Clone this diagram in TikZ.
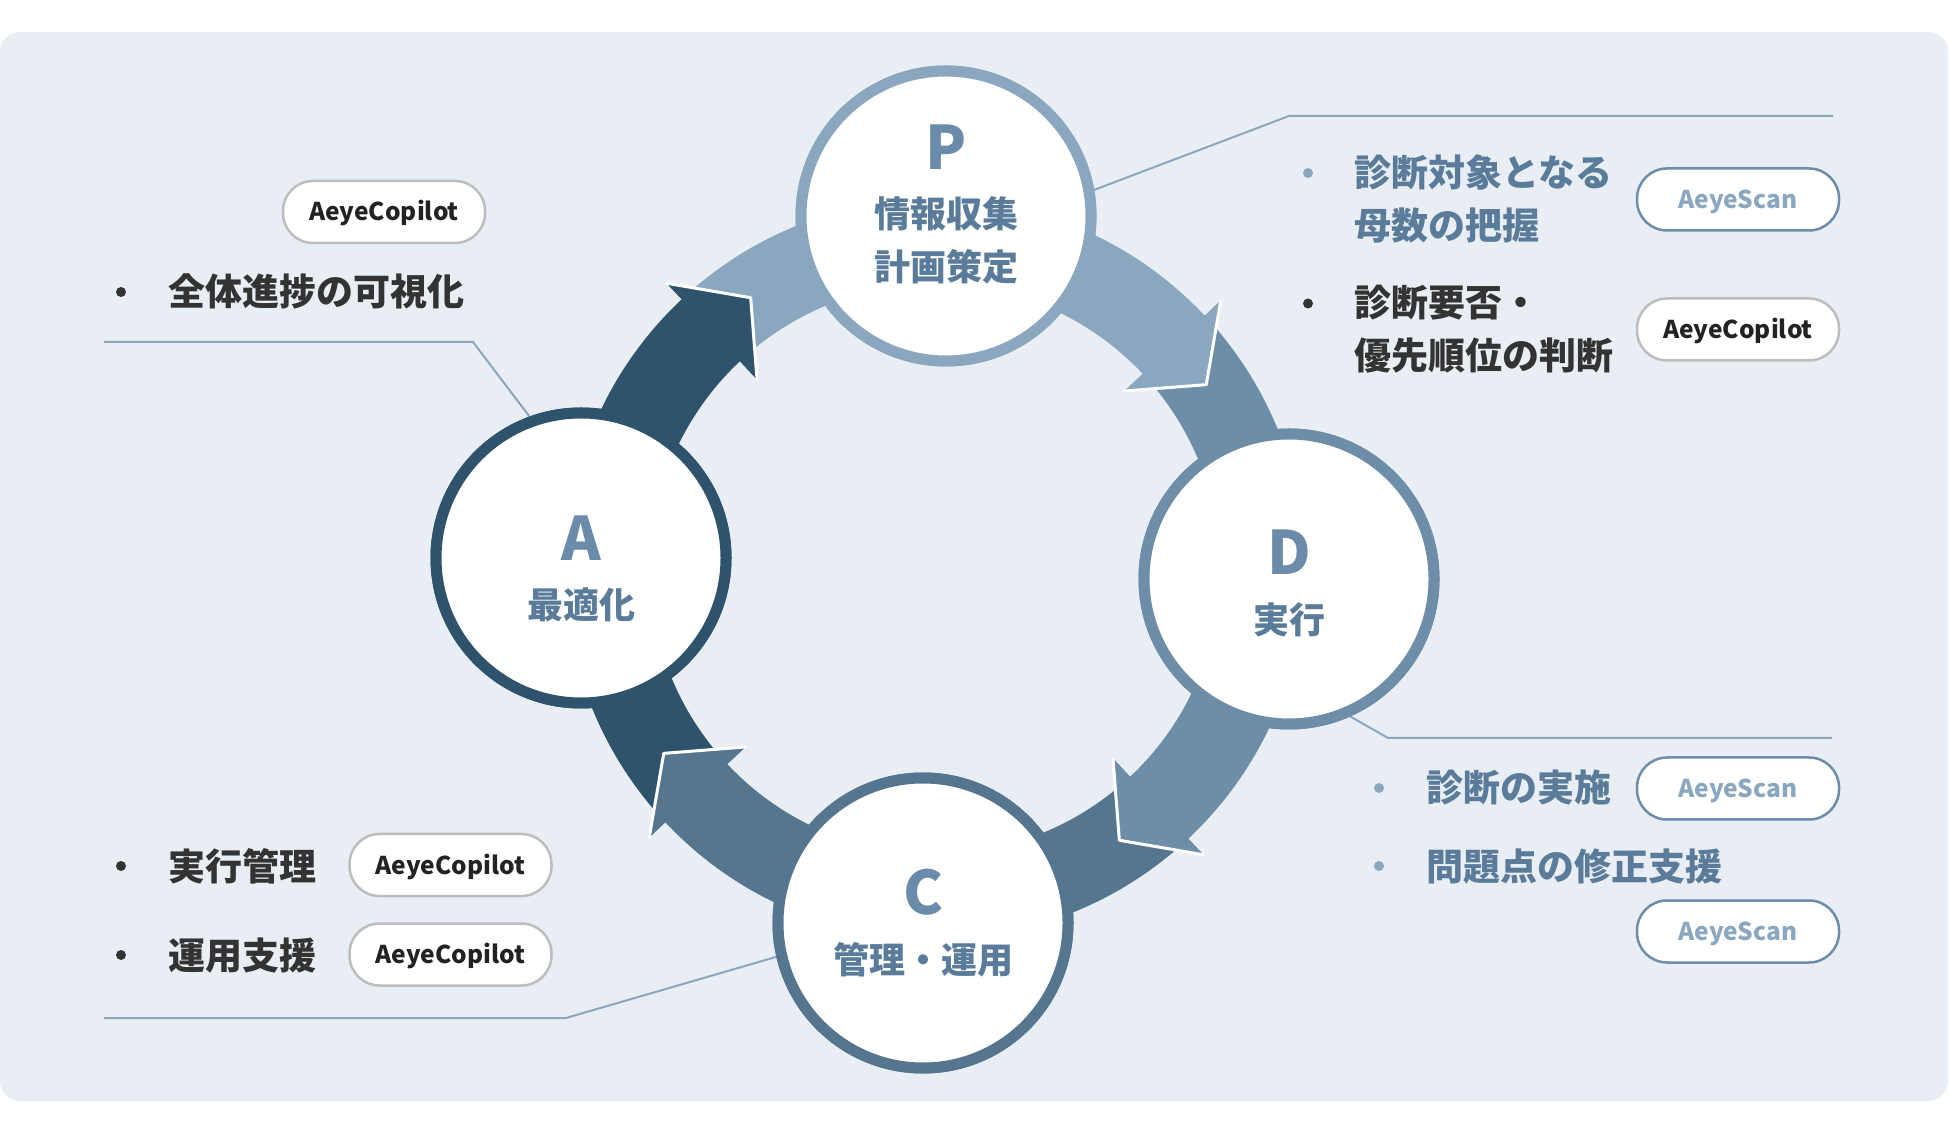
\documentclass[tikz,border=0pt]{standalone}
\usepackage{fontspec}
\setmainfont{Noto Sans CJK JP}
\usetikzlibrary{calc}
\definecolor{bgc}{HTML}{E8EEF4}
\definecolor{Pcol}{HTML}{8AA7BF}
\definecolor{Dcol}{HTML}{6D8DA9}
\definecolor{Ccol}{HTML}{56768F}
\definecolor{Acol}{HTML}{2F536D}
\definecolor{letc}{HTML}{6A8CAA}
\definecolor{labc}{HTML}{5A7B99}
\definecolor{textdark}{HTML}{333333}
\definecolor{pilltext}{HTML}{222222}
\definecolor{pillgray}{HTML}{BDBDBD}
\definecolor{leadc}{HTML}{8AA7BF}
\newcommand\pdcaband[3]{%
  \fill[#1] ($(O)+(#2:370)$) arc[start angle=#2, end angle=#3, radius=370]
    -- ($(O)+(#3:392)$) -- ($(O)+(#3-9:328)$) -- ($(O)+(#3:260)$)
    -- ($(O)+(#3:285)$) arc[start angle=#3, end angle=#2, radius=285] -- cycle;}
\newcommand\pdcahead[2]{%
  \fill[#1] ($(O)+(#2:392)$) -- ($(O)+(#2-9:328)$) -- ($(O)+(#2:260)$) -- cycle;
  \draw[white, line width=3, line join=round, line cap=round]
    ($(O)+(#2:392)$) -- ($(O)+(#2-9:328)$) -- ($(O)+(#2:260)$);}
\begin{document}
\begin{tikzpicture}[x=1pt,y=1pt,
  phase/.style={circle, draw=#1, fill=white, line width=11, minimum size=290, inner sep=0},
  bigletter/.style={anchor=base, inner sep=0, text=letc, font=\fontsize{60}{72}\selectfont\bfseries},
  circlabel/.style={anchor=base, inner sep=0, text=labc, font=\fontsize{36}{44}\selectfont\bfseries},
  sidetext/.style={anchor=base west, inner sep=0, font=\fontsize{37}{44}\selectfont\bfseries},
  dot/.style={circle, fill=#1, minimum size=10, inner sep=0},
  pill/.style={draw=#1, fill=white, line width=2.5, rounded corners=30, minimum width=202, minimum height=62, inner sep=0, text height=18, text depth=0, font=\fontsize{24.5}{30}\selectfont\bfseries},
  leader/.style={draw=leadc, line width=2}
]
\useasboundingbox (0,0) rectangle (1950,1138);
\fill[bgc, rounded corners=20] (0,37) rectangle (1948,1106);
\coordinate (O) at (935,569);

% bands
\pdcaband{Pcol}{132}{43.2}
\pdcaband{Dcol}{42}{-46.8}
\pdcaband{Ccol}{-48}{-136.8}
\pdcaband{Acol}{-138}{-226.8}
% heads on top
\pdcahead{Pcol}{43.2}
\pdcahead{Dcol}{-46.8}
\pdcahead{Ccol}{-136.8}
\pdcahead{Acol}{-226.8}

% circles (shapes)
\node[phase=Pcol] (P) at (946,922) {};
\node[phase=Dcol] (D) at (1289,559) {};
\node[phase=Ccol] (C) at (923,215) {};
\node[phase=Acol] (A) at (581,580) {};

% leader lines
\coordinate (l1a) at (104,796);
\coordinate (l1b) at (473,796);
\draw[leader] (l1a) -- (l1b) -- (A.110);
\coordinate (l2a) at (1289,1022);
\coordinate (l2b) at (1833,1022);
\draw[leader] (P.10) -- (l2a) -- (l2b);
\coordinate (l3a) at (1388,400);
\coordinate (l3b) at (1832,400);
\draw[leader] (D.-66) -- (l3a) -- (l3b);
\coordinate (l4a) at (566,120);
\coordinate (l4b) at (104,120);
\draw[leader] (C.193) -- (l4a) -- (l4b);
% redraw circles on top of leader ends
\node[phase=Pcol] (P2) at (P) {};
\node[phase=Dcol] (D2) at (D) {};
\node[phase=Ccol] (C2) at (C) {};
\node[phase=Acol] (A2) at (A) {};

% circle texts
\node[bigletter] (Pl) at (946,968) {P};
\node[circlabel] (Pt1) at (946,910) {情報収集};
\node[circlabel] (Pt2) at (946,857) {計画策定};
\node[bigletter] (Dl) at (1289,563) {D};
\node[circlabel] (Dt) at (1289,504) {実行};
\node[bigletter] (Cl) at (923,224) {C};
\node[circlabel] (Ct) at (923,165) {管理・運用};
\node[bigletter] (Al) at (581,577) {A};
\node[circlabel] (At) at (581,519) {最適化};

% left side
\node[pill=pillgray, text=pilltext] (pc1) at (384,926) {AeyeCopilot};
\node[dot=textdark] (bl1) at (121,846) {};
\node[sidetext, text=textdark] (tl1) at (168,832) {全体進捗の可視化};
\node[dot=textdark] (bl2) at (121,272) {};
\node[sidetext, text=textdark] (tl2) at (168,258) {実行管理};
\node[pill=pillgray, text=pilltext] (pc2) at (450.5,273) {AeyeCopilot};
\node[dot=textdark] (bl3) at (121,183) {};
\node[sidetext, text=textdark] (tl3) at (168,169) {運用支援};
\node[pill=pillgray, text=pilltext] (pc3) at (450.5,183.5) {AeyeCopilot};

% right side
\node[dot=Pcol] (br1) at (1308,965) {};
\node[sidetext, text=labc] (tr1) at (1354,951) {診断対象となる};
\node[sidetext, text=labc] (tr1b) at (1354,898) {母数の把握};
\node[pill=Dcol, text=Pcol] (ps1) at (1738,938.5) {AeyeScan};
\node[dot=textdark] (br2) at (1308,834.5) {};
\node[sidetext, text=textdark] (tr2) at (1354,821) {診断要否・};
\node[sidetext, text=textdark] (tr2b) at (1354,768) {優先順位の判断};
\node[pill=pillgray, text=pilltext] (pc4) at (1738,808.5) {AeyeCopilot};
\node[dot=Pcol] (br3) at (1379,350) {};
\node[sidetext, text=labc] (tr3) at (1426,336) {診断の実施};
\node[pill=Dcol, text=Pcol] (ps2) at (1738,349.5) {AeyeScan};
\node[dot=Pcol] (br4) at (1379,272) {};
\node[sidetext, text=labc] (tr4) at (1426,258) {問題点の修正支援};
\node[pill=Dcol, text=Pcol] (ps3) at (1738,206.5) {AeyeScan};
\end{tikzpicture}
\end{document}
